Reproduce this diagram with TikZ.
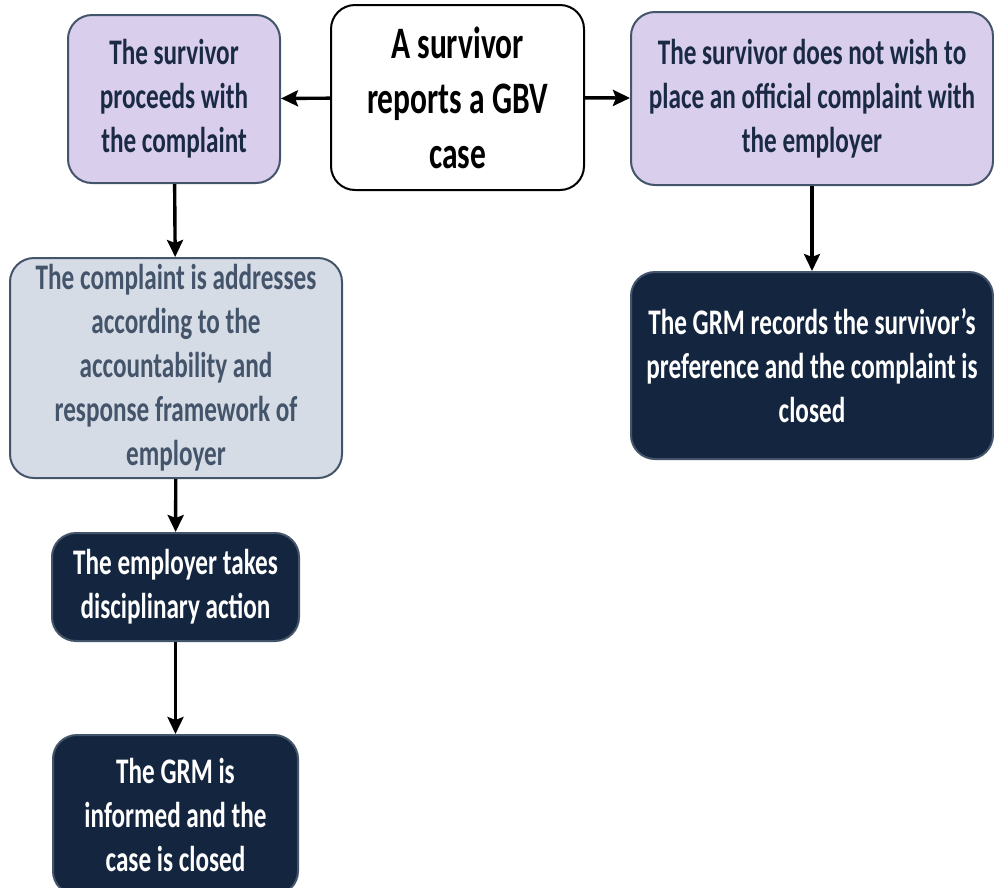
\documentclass[tikz,border=0pt]{standalone}
\usepackage{fontspec}
\setmainfont{Carlito}[FakeStretch=0.7]
\usetikzlibrary{arrows.meta}

\definecolor{lavender}{HTML}{D9CEEB}
\definecolor{slateline}{HTML}{44546A}
\definecolor{slatefill}{HTML}{D6DCE5}
\definecolor{navy}{HTML}{14263F}
\definecolor{inkblue}{HTML}{1B2A44}

\begin{document}
\begin{tikzpicture}[x=1pt, y=-1pt,
    box/.style={rectangle, rounded corners=24pt, line width=2pt, align=center,
        inner sep=0pt, font=\bfseries\fontsize{36}{44}\selectfont},
    startbox/.style={box, draw=black, fill=white, font=\bfseries\fontsize{45}{55}\selectfont},
    choicebox/.style={box, draw=slateline, fill=lavender, text=inkblue},
    stepbox/.style={box, draw=slateline, fill=slatefill, text=slateline},
    endbox/.style={box, draw=slateline, fill=navy, text=white},
    ->/.style={line width=3.4pt, -{Stealth[length=17pt, width=16pt, inset=3pt]}}]
    \useasboundingbox (0,0) rectangle (994,887);
    \node[startbox, minimum width=253pt, minimum height=185pt] (report) at (457.5,97.5)
        {A survivor\\reports a GBV\\case};
    \node[choicebox, minimum width=212pt, minimum height=168pt] (proceed) at (174,99)
        {The survivor\\proceeds with\\the complaint};
    \node[choicebox, minimum width=362pt, minimum height=173pt] (decline) at (812,98.5)
        {The survivor does not wish to\\place an official complaint with\\the employer};
    \node[stepbox, minimum width=332pt, minimum height=220pt] (address) at (176,368)
        {The complaint is addresses\\according to the\\accountability and\\response framework of\\employer};
    \node[endbox, minimum width=247pt, minimum height=108pt] (action) at (175.5,587)
        {The employer takes\\disciplinary action};
    \node[endbox, minimum width=245pt, minimum height=160pt] (informed) at (175.5,815)
        {The GRM is\\informed and the\\case is closed};
    \node[endbox, minimum width=362pt, minimum height=187pt] (record) at (812,365.5)
        {The GRM records the survivor’s\\preference and the complaint is\\closed};
    \draw[->] (report) -- (proceed);
    \draw[->] (report) -- (decline);
    \draw[->] (proceed) -- (address);
    \draw[->] (address) -- (action);
    \draw[->] (action) -- (informed);
    \draw[->] (decline) -- (record);
\end{tikzpicture}
\end{document}
